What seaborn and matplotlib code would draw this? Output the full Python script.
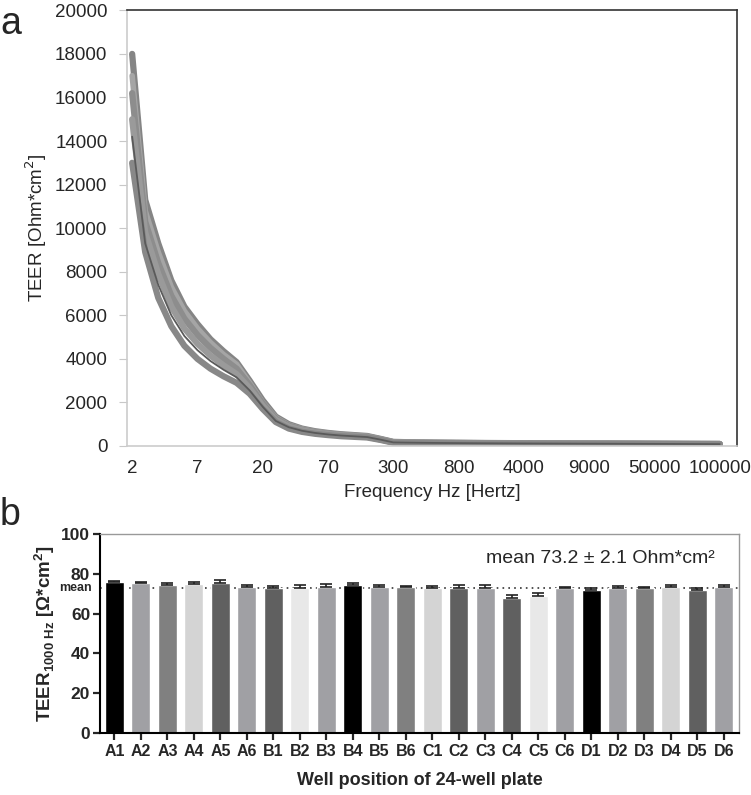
import numpy as np
import pandas as pd
import seaborn as sns
import matplotlib.pyplot as plt
from matplotlib import transforms

sns.set_style("white")
plt.rcParams['font.family'] = ['Liberation Sans', 'DejaVu Sans']

# panel a: TEER spectra (Excel category axis -> points are equally spaced)
freqs = [2, 3, 4, 5, 6, 7, 8, 9, 10, 15, 20, 30, 40, 50, 60, 70, 80, 90, 100, 200,
         300, 400, 500, 600, 700, 800, 900, 1000, 2000, 3000, 4000, 5000, 6000, 7000,
         8000, 9000, 10000, 20000, 30000, 40000, 50000, 60000, 70000, 80000, 90000, 100000]
freq_ticks = [2, 7, 20, 70, 300, 800, 4000, 9000, 50000, 100000]

well_1 = [18000, 11300, 9300, 7600, 6400, 5600, 4900, 4350, 3850, 3000, 2100, 1350, 1000, 800, 680, 600,
          540, 500, 460, 330, 190, 175, 165, 158, 152, 147, 143, 139, 135, 132, 129, 126, 123, 120,
          118, 116, 114, 112, 110, 108, 106, 104, 102, 100, 98, 96]
well_2 = [17000, 10800, 8900, 7300, 6200, 5400, 4750, 4200, 3750, 2900, 2000, 1300, 960, 780, 660, 585,
          525, 485, 445, 320, 180, 168, 160, 153, 148, 143, 139, 135, 131, 128, 125, 122, 119, 117,
          115, 113, 111, 109, 107, 105, 103, 101, 99, 97, 95, 93]
well_3 = [16200, 10300, 8400, 6900, 5850, 5100, 4500, 4000, 3550, 2800, 1950, 1250, 930, 750, 640, 565,
          510, 470, 430, 310, 175, 163, 155, 149, 144, 140, 136, 132, 129, 126, 123, 120, 117, 115,
          113, 111, 109, 107, 105, 103, 101, 99, 97, 95, 93, 91]
well_4 = [15000, 9800, 7900, 6400, 5400, 4700, 4150, 3700, 3300, 2650, 1850, 1200, 890, 720, 615, 545,
          495, 460, 420, 300, 170, 158, 151, 145, 140, 136, 132, 129, 126, 123, 120, 117, 115, 113,
          111, 109, 107, 105, 103, 101, 99, 97, 95, 93, 91, 89]
well_5 = [14200, 9300, 7400, 6000, 5050, 4400, 3900, 3500, 3150, 2550, 1800, 1150, 860, 700, 600, 530,
          480, 445, 410, 295, 165, 155, 148, 142, 137, 133, 129, 126, 123, 120, 117, 115, 113, 111,
          109, 107, 105, 103, 101, 99, 97, 95, 93, 91, 89, 87]
well_6 = [13000, 8900, 6800, 5500, 4600, 4000, 3550, 3200, 2900, 2400, 1700, 1100, 800, 650, 560, 500,
          450, 420, 390, 280, 150, 142, 136, 131, 127, 123, 120, 117, 114, 112, 110, 108, 106, 104,
          102, 100, 98, 96, 94, 92, 90, 88, 86, 84, 82, 80]

# panel b: TEER at 1000 Hz per well
wells = ['A1', 'A2', 'A3', 'A4', 'A5', 'A6', 'B1', 'B2', 'B3', 'B4', 'B5', 'B6',
         'C1', 'C2', 'C3', 'C4', 'C5', 'C6', 'D1', 'D2', 'D3', 'D4', 'D5', 'D6']
teer_1000 = [75.9, 75.7, 74.5, 75.0, 75.7, 73.7, 73.0, 72.7, 73.4, 74.4, 73.7, 73.4,
             73.0, 73.0, 73.2, 67.8, 69.0, 73.0, 72.0, 73.0, 72.8, 73.5, 72.0, 73.7]
teer_sd = [0.8, 0.5, 0.8, 1.0, 1.3, 0.7, 1.2, 1.7, 1.7, 1.0, 1.0, 0.8,
           1.2, 1.3, 1.2, 1.5, 1.5, 0.5, 0.7, 1.2, 0.7, 0.8, 0.8, 0.7]
mean_teer = 73.2
sd_teer = 2.1

bar_colors = ['#000000', '#a0a0a4', '#808080', '#d4d4d4', '#606060', '#a0a0a4', '#606060', '#e8e8e8', '#a0a0a4']

fig = plt.figure(figsize=(7.51, 7.95), dpi=100)

# ---- panel a ----
ax1 = fig.add_axes([0.169, 0.439, 0.812, 0.548])
idx = np.arange(len(freqs))
curves = [(well_1, '#858585', 4.5), (well_2, '#a5a5a5', 4.0), (well_3, '#8d8d8d', 4.5),
          (well_4, '#9a9a9a', 4.5), (well_6, '#888888', 4.5), (well_5, '#5a5a5a', 1.3)]
for vals, col, lw in curves:
    sns.lineplot(x=idx, y=vals, color=col, lw=lw, ax=ax1,
                 solid_capstyle='round', solid_joinstyle='round')
ax1.set_xlim(-0.4, 46.3)
ax1.set_ylim(0, 20000)
ax1.set_yticks(np.arange(0, 20001, 2000))
ax1.set_xticks([freqs.index(f) for f in freq_ticks])
ax1.set_xticklabels([str(f) for f in freq_ticks])
ax1.tick_params(axis='y', labelsize=13.5, length=6, color='#c8c8c8', left=True, pad=8)
ax1.tick_params(axis='x', labelsize=13.5, length=0, pad=10)
for s in ['left', 'bottom']:
    ax1.spines[s].set_color('#cccccc')
    ax1.spines[s].set_linewidth(1.2)
for s in ['top', 'right']:
    ax1.spines[s].set_color('#333333')
    ax1.spines[s].set_linewidth(1.2)
ax1.set_ylabel('TEER [Ohm*cm$^2$]', fontsize=13.5, labelpad=4)
ax1.set_xlabel('Frequency Hz [Hertz]', fontsize=13.5, labelpad=5)
fig.text(0.0, 0.992, 'a', fontsize=27, va='top')

# ---- panel b ----
ax2 = fig.add_axes([0.133, 0.078, 0.851, 0.250])
df = pd.DataFrame({'well': wells, 'teer': teer_1000})
pal = [bar_colors[i % len(bar_colors)] for i in range(len(wells))]
sns.barplot(data=df, x='well', y='teer', hue='well', palette=pal, legend=False,
            errorbar=None, width=0.72, ax=ax2, zorder=2)
ax2.errorbar(np.arange(len(wells)), teer_1000, yerr=[np.zeros(len(wells)), teer_sd],
             fmt='none', ecolor='#222222', elinewidth=1.2, capsize=4, capthick=1.2, zorder=3)
ax2.axhline(mean_teer, ls=(0, (1, 2.5)), color='#333333', lw=1.2, zorder=1)
ax2.set_xlim(-0.55, 23.57)
ax2.set_ylim(0, 100)
ax2.set_yticks(np.arange(0, 101, 20))
ax2.tick_params(axis='y', labelsize=12.5, length=5, width=1.6, direction='out', left=True, pad=2)
ax2.tick_params(axis='x', labelsize=11.5, length=5, width=1.6, direction='out', bottom=True, pad=3)
for lab in ax2.get_yticklabels() + ax2.get_xticklabels():
    lab.set_fontweight('bold')
for s in ['left', 'bottom']:
    ax2.spines[s].set_color('#000000')
    ax2.spines[s].set_linewidth(1.5)
for s in ['top', 'right']:
    ax2.spines[s].set_color('#999999')
    ax2.spines[s].set_linewidth(1.0)
trans = transforms.blended_transform_factory(ax2.transAxes, ax2.transData)
ax2.text(-0.012, mean_teer, 'mean', transform=trans, ha='right', va='center', fontsize=9, fontweight='bold')
ax2.text(0.962, 0.88, f'mean {mean_teer} \u00b1 {sd_teer} Ohm*cm\u00b2', transform=ax2.transAxes,
         ha='right', va='center', fontsize=14)
ax2.set_ylabel('TEER$_{\\mathregular{1000\\ Hz}}$ [\u03a9*cm$^{\\mathregular{2}}$]', fontsize=13.5,
               fontweight='bold', labelpad=3)
ax2.set_xlabel('Well position of 24-well plate', fontsize=13, fontweight='bold', labelpad=9)
fig.text(0.0, 0.375, 'b', fontsize=27, va='top')

fig.savefig('out.png', dpi=100)
